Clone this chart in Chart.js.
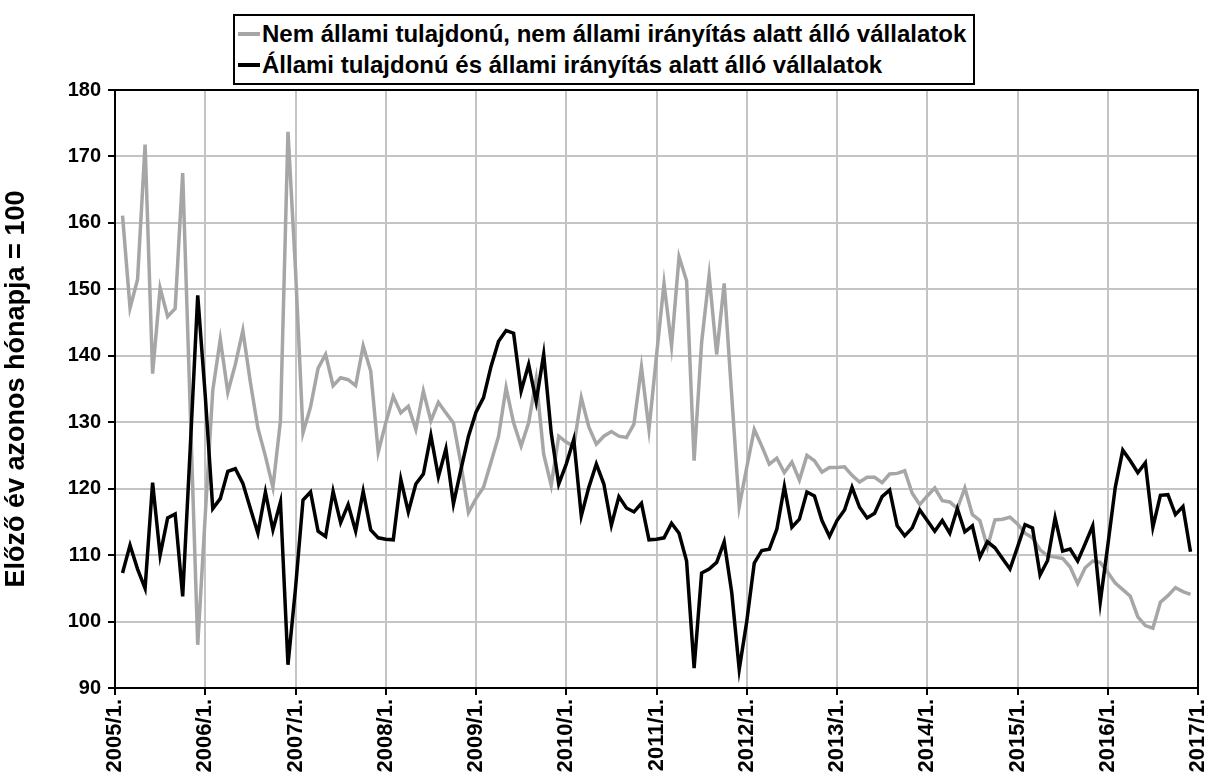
<!DOCTYPE html>
<html>
<head>
<meta charset="utf-8">
<script src="https://cdn.jsdelivr.net/npm/chart.js@4.4.1/dist/chart.umd.min.js"></script>
<style>
  body { margin: 0; background: #fff; }
  #wrap { position: relative; width: 1209px; height: 781px; }
  #legend {
    position: absolute; left: 233px; top: 14px;
    border: 2px solid #000; background: #fff;
    padding: 2px 7px 3px 3px;
    font: bold 24px "Liberation Sans", Arial, sans-serif; color: #000;
  }
  #legend .row { display: flex; align-items: center; height: 31px; white-space: nowrap; }
  #legend .swatch { width: 22px; height: 4px; margin-right: 2px; }
</style>
</head>
<body>
<div id="wrap">
  <canvas id="chart"></canvas>
  <div id="legend"></div>
</div>
<script>
// 設定
const FONT = '"Liberation Sans", Arial, sans-serif';

// x軸ラベル（年初）
const tickLabels = ["2005/1.", "2006/1.", "2007/1.", "2008/1.", "2009/1.", "2010/1.",
  "2011/1.", "2012/1.", "2013/1.", "2014/1.", "2015/1.", "2016/1.", "2017/1."];
const monthsPerTick = 12;

// 2005/2. - 2016/12. 月次
const nonStateLabel = "Nem állami tulajdonú, nem állami irányítás alatt álló vállalatok";
const nonStateValues = [
  161.1, 147.2, 151.5, 171.8, 137.3, 150.2, 145.9, 147.1, 167.5, 132.0, 96.5,
  116.0, 134.8, 142.5, 134.5, 138.7, 143.8, 136.0, 129.1, 124.9, 120.2, 130.2, 173.7,
  153.0, 128.4, 132.3, 138.1, 140.2, 135.5, 136.7, 136.4, 135.5, 141.5, 137.7, 125.5,
  129.9, 133.9, 131.4, 132.4, 128.9, 134.7, 130.2, 133.0, 131.4, 129.9, 123.7, 116.4,
  118.5, 120.2, 124.0, 127.9, 135.2, 129.9, 126.4, 129.9, 136.5, 125.2, 120.5, 127.9,
  127.0, 126.4, 133.7, 129.3, 126.7, 127.9, 128.6, 127.9, 127.7, 129.7, 138.3, 128.9,
  140.0, 150.9, 141.5, 154.9, 151.3, 124.2, 142.0, 152.1, 140.2, 150.9, 134.0, 117.3,
  123.2, 128.9, 126.4, 123.7, 124.6, 122.4, 124.0, 121.3, 125.0, 124.2, 122.5, 123.2,
  123.2, 123.3, 122.0, 121.0, 121.7, 121.7, 120.9, 122.2, 122.3, 122.7, 119.3, 117.6,
  118.9, 120.1, 118.2, 118.0, 117.0, 120.1, 116.1, 115.2, 111.2, 115.3, 115.4, 115.7,
  114.7, 113.3, 112.6, 110.8, 109.9, 109.7, 109.5, 108.2, 105.7, 108.1, 109.1, 108.9,
  107.4, 105.8, 104.8, 103.8, 100.7, 99.4, 99.0, 102.9, 103.9, 105.1, 104.5, 104.1
];

const stateLabel = "Állami tulajdonú és állami irányítás alatt álló vállalatok";
const stateValues = [
  107.3, 111.5, 107.9, 105.0, 120.9, 110.0, 115.6, 116.2, 103.8, 126.0, 149.1,
  134.0, 117.0, 118.5, 122.6, 123.0, 120.8, 117.0, 113.3, 119.5, 113.8, 118.0, 93.5,
  105.0, 118.3, 119.5, 113.6, 112.8, 119.6, 114.9, 117.6, 113.6, 119.6, 113.8, 112.6,
  112.4, 112.3, 121.4, 116.5, 120.7, 122.2, 128.0, 121.8, 126.0, 117.7, 122.9, 127.9,
  131.5, 133.7, 138.4, 142.2, 143.8, 143.4, 134.7, 138.7, 133.1, 140.2, 128.4, 120.7,
  123.7, 127.4, 115.9, 120.2, 123.7, 120.7, 114.5, 118.8, 117.1, 116.5, 117.8, 112.3,
  112.4, 112.6, 114.8, 113.3, 109.1, 93.0, 107.3, 107.9, 108.9, 112.0, 104.4, 92.8,
  100.0, 108.8, 110.7, 110.9, 113.9, 120.3, 114.2, 115.4, 119.5, 118.9, 115.2, 112.8,
  115.2, 116.8, 120.2, 117.2, 115.6, 116.3, 118.8, 119.8, 114.4, 112.9, 114.1, 116.8,
  115.2, 113.6, 115.2, 113.3, 117.0, 113.5, 114.4, 109.7, 112.0, 111.1, 109.5, 107.9,
  111.2, 114.6, 114.1, 107.0, 109.2, 115.6, 110.6, 110.9, 109.1, 111.7, 114.4, 102.9,
  111.4, 120.2, 125.8, 124.2, 122.4, 123.9, 114.2, 119.0, 119.1, 116.1, 117.3, 110.5
];

const yMin = 90, yMax = 180, yStep = 10;
const yTitle = "Előző év azonos hónapja = 100";

// 月番号（2005/1. = 0）に変換
const toPoints = (values) => values.map((v, i) => ({ x: i + 1, y: v }));

// プロット枠
const plotBorder = {
  id: "plotBorder",
  afterDatasetsDraw(chart) {
    const { ctx, chartArea: a } = chart;
    ctx.save();
    ctx.strokeStyle = "#000";
    ctx.lineWidth = 2;
    ctx.strokeRect(a.left, a.top, a.right - a.left, a.bottom - a.top);
    ctx.restore();
  }
};

const canvas = document.getElementById("chart");
canvas.width = 1209;
canvas.height = 781;

const chart = new Chart(canvas.getContext("2d"), {
  type: "line",
  data: {
    datasets: [{
      label: nonStateLabel,
      data: toPoints(nonStateValues),
      borderColor: "#a6a6a6",
      borderWidth: 3.5,
      pointRadius: 0,
      tension: 0,
      order: 1
    }, {
      label: stateLabel,
      data: toPoints(stateValues),
      borderColor: "#000000",
      borderWidth: 3.5,
      pointRadius: 0,
      tension: 0,
      order: 0
    }]
  },
  options: {
    responsive: false,
    animation: false,
    layout: { padding: { top: 90, right: 11, left: 0, bottom: 0 } },
    plugins: {
      legend: { display: false },
      tooltip: { enabled: false }
    },
    scales: {
      x: {
        type: "linear",
        min: 0,
        max: tickLabels.length * monthsPerTick - monthsPerTick,
        afterFit: (scale) => {
          scale.height = 781 - 688;
          scale.paddingLeft = 0;
          scale.paddingRight = 0;
        },
        afterBuildTicks: (scale) => {
          scale.ticks = tickLabels.map((_, i) => ({ value: i * monthsPerTick }));
        },
        ticks: {
          autoSkip: false,
          minRotation: 90,
          maxRotation: 90,
          padding: 4,
          color: "#000",
          font: { family: FONT, size: 22, weight: "bold" },
          callback: (v) => tickLabels[Math.round(v / monthsPerTick)]
        },
        grid: { color: "#c4c4c4", lineWidth: 2, tickColor: "#000", tickLength: 7, tickWidth: 2 },
        border: { color: "#000", width: 2 }
      },
      y: {
        min: yMin,
        max: yMax,
        afterFit: (scale) => { scale.width = 115; },
        ticks: {
          stepSize: yStep,
          padding: 7,
          color: "#000",
          font: { family: FONT, size: 20, weight: "bold" }
        },
        title: {
          display: true,
          text: yTitle,
          color: "#000",
          font: { family: FONT, size: 27, weight: "bold" },
          padding: { top: 0, bottom: 4 }
        },
        grid: { color: "#c4c4c4", lineWidth: 2, tickColor: "#000", tickLength: 7, tickWidth: 2 },
        border: { color: "#000", width: 2 }
      }
    }
  },
  plugins: [plotBorder]
});

// 凡例（HTML）
const legendEl = document.getElementById("legend");
chart.data.datasets.forEach((ds) => {
  const row = document.createElement("div");
  row.className = "row";
  const sw = document.createElement("span");
  sw.className = "swatch";
  sw.style.background = ds.borderColor;
  const txt = document.createElement("span");
  txt.textContent = ds.label;
  row.appendChild(sw);
  row.appendChild(txt);
  legendEl.appendChild(row);
});
</script>
</body>
</html>
